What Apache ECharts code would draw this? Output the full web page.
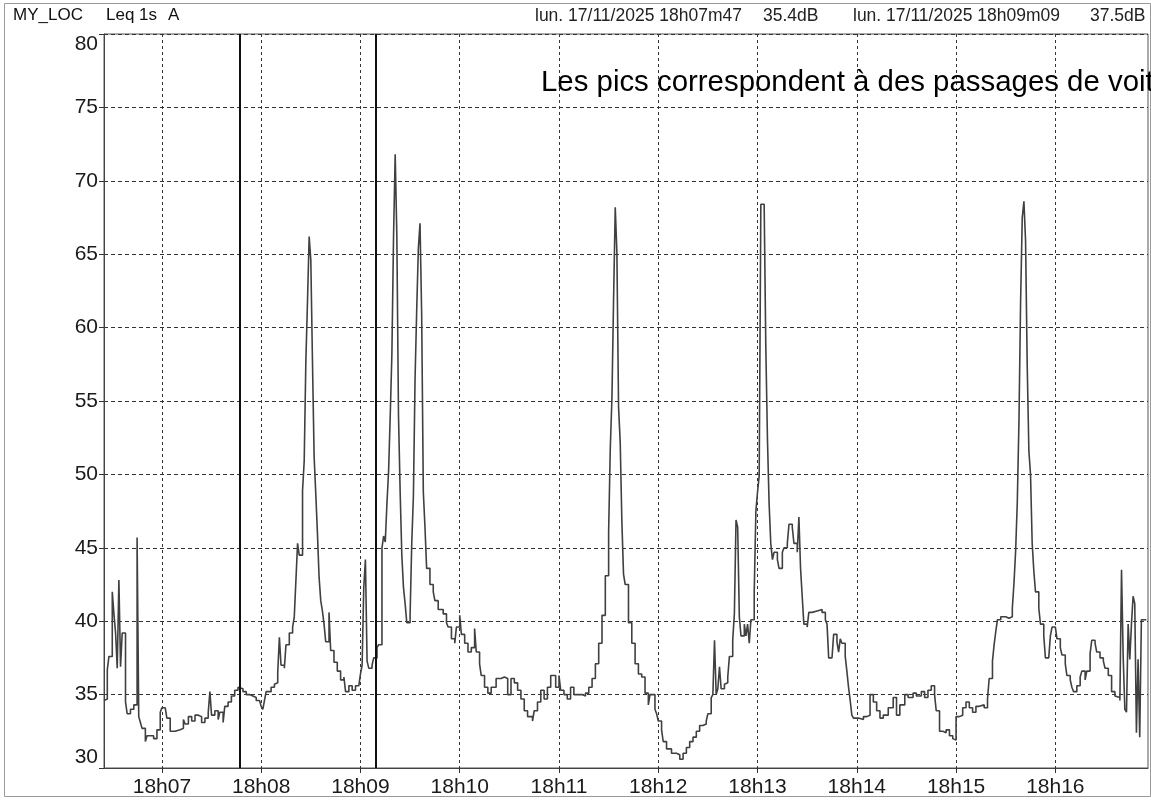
<!DOCTYPE html>
<html>
<head>
<meta charset="utf-8">
<title>MY_LOC Leq 1s A</title>
<script src="https://cdn.jsdelivr.net/npm/echarts@6/dist/echarts.min.js"></script>
<style>
  html, body { margin: 0; padding: 0; background: #ffffff; }
  #chart { width: 1151px; height: 800px; }
</style>
</head>
<body>
<div id="chart"></div>
<script>
// Leq 1 s, A-weighted (dB). Times are seconds after 18h00m00; each level holds until the next time.
const timesSec = [
  385, 386, 387, 388, 390, 391, 392, 393, 394, 395, 396, 398, 399, 401, 403, 405, 406, 407, 408, 410,
  411, 415, 417, 419, 420, 422, 423, 425, 428, 431, 433, 434, 436, 438, 440, 442, 444, 446, 448, 449,
  450, 452, 454, 455, 457, 458, 460, 462, 464, 466, 467, 469, 471, 473, 475, 477, 479, 480, 481, 482,
  483, 486, 488, 489, 490, 491, 492, 494, 495, 497, 499, 500, 501, 502, 503, 505, 506, 507, 508, 509,
  510, 511, 512, 513, 514, 515, 516, 517, 518, 519, 521, 522, 524, 526, 528, 530, 531, 533, 535, 537,
  539, 540, 541, 542, 543, 544, 545, 547, 548, 550, 551, 553, 554, 555, 556, 557, 558, 559, 560, 561,
  562, 563, 564, 565, 566, 567, 568, 570, 571, 572, 573, 574, 575, 576, 577, 578, 579, 580, 582, 584,
  585, 587, 590, 592, 593, 595, 597, 598, 600, 601, 603, 605, 607, 609, 610, 612, 613, 615, 617, 619,
  622, 625, 627, 629, 631, 633, 635, 637, 639, 641, 644, 645, 647, 649, 651, 653, 655, 658, 660, 661,
  663, 665, 667, 669, 674, 676, 678, 680, 682, 684, 686, 688, 690, 691, 692, 693, 694, 695, 696, 697,
  698, 699, 700, 702, 704, 706, 708, 710, 712, 714, 715, 718, 719, 720, 722, 723, 725, 728, 731, 733,
  735, 737, 739, 741, 743, 745, 747, 749, 750, 752, 753, 754, 755, 756, 757, 758, 760, 761, 762, 763,
  765, 766, 767, 768, 769, 770, 772, 773, 774, 775, 776, 778, 779, 780, 781, 782, 784, 785, 786, 787,
  788, 789, 790, 792, 793, 795, 796, 798, 799, 801, 802, 804, 805, 806, 807, 808, 810, 811, 813, 816,
  819, 821, 822, 823, 825, 826, 828, 829, 830, 831, 833, 834, 835, 836, 837, 838, 841, 844, 846, 848,
  850, 852, 854, 856, 859, 862, 864, 866, 869, 871, 874, 876, 879, 881, 883, 885, 887, 888, 890, 892,
  894, 896, 898, 899, 900, 902, 904, 906, 908, 910, 912, 914, 917, 919, 920, 922, 923, 924, 925, 927,
  930, 932, 934, 935, 936, 937, 938, 939, 940, 941, 942, 943, 944, 945, 946, 947, 948, 950, 951, 953,
  954, 956, 957, 958, 960, 961, 963, 964, 966, 967, 969, 970, 971, 973, 975, 976, 978, 979, 981, 982,
  984, 985, 987, 989, 990, 992, 994, 996, 997, 999, 1000, 1001, 1002, 1003, 1004, 1005, 1006, 1007, 1008, 1009,
  1010, 1011, 1012, 1015
];
const levelsDb = [
  34.6, 34.7, 36.7, 37.6, 42.0, 40.5, 39.2, 36.8, 42.8, 36.9, 39.2, 34.5, 33.7, 34.0, 34.3, 45.7, 33.5, 33.1, 32.7, 31.8,
  32.2, 32.0, 32.6, 33.8, 34.1, 34.0, 33.4, 32.5, 32.6, 32.7, 33.3, 33.0, 33.5, 33.2, 33.6, 33.5, 33.1, 33.4, 33.8, 35.2,
  33.6, 33.9, 33.3, 33.8, 33.1, 34.2, 34.5, 34.9, 35.3, 35.5, 35.4, 35.2, 35.0, 34.9, 34.8, 34.6, 34.5, 34.2, 34.0, 34.6,
  35.2, 35.5, 35.7, 35.8, 36.5, 38.9, 37.0, 36.8, 38.4, 39.2, 39.6, 40.3, 42.8, 45.3, 44.5, 48.9, 50.9, 57.7, 61.8, 66.2,
  64.6, 57.7, 51.2, 48.7, 46.0, 43.0, 41.4, 40.7, 39.8, 38.6, 40.6, 38.0, 37.2, 36.6, 36.0, 36.2, 35.2, 35.6, 35.3, 35.6,
  35.5, 36.4, 37.0, 42.3, 44.2, 37.3, 36.8, 37.0, 37.5, 38.2, 38.4, 45.0, 45.8, 45.4, 48.0, 50.2, 54.0, 58.2, 66.2, 71.8,
  66.2, 54.0, 48.8, 44.5, 42.3, 41.2, 39.9, 40.4, 45.3, 48.5, 56.5, 61.2, 65.4, 67.1, 60.9, 48.8, 46.4, 43.6, 42.5, 42.0,
  41.4, 40.8, 40.5, 39.9, 39.6, 38.8, 38.5, 39.6, 40.4, 39.1, 38.5, 37.9, 38.2, 39.5, 37.9, 37.1, 36.3, 35.5, 35.1, 35.5,
  36.1, 36.2, 36.1, 35.0, 36.1, 35.8, 35.3, 34.7, 33.9, 33.5, 33.2, 33.9, 34.5, 35.3, 34.7, 35.5, 36.3, 35.5, 36.3, 35.3,
  35.0, 34.7, 35.5, 35.0, 34.9, 35.1, 35.5, 36.1, 37.1, 38.5, 40.4, 43.1, 46.1, 51.8, 55.2, 62.0, 68.2, 65.1, 54.6, 52.2,
  46.8, 43.2, 42.5, 39.9, 38.5, 37.1, 36.4, 36.2, 35.1, 34.3, 35.0, 34.0, 33.7, 33.2, 32.6, 31.8, 31.3, 31.0, 30.9, 30.6,
  31.0, 31.4, 31.8, 32.1, 32.5, 32.9, 33.0, 33.2, 33.7, 34.8, 35.0, 38.7, 35.0, 35.4, 36.9, 35.4, 35.7, 35.8, 36.2, 37.6,
  38.7, 40.5, 46.9, 46.4, 40.3, 39.0, 39.8, 39.0, 39.8, 38.5, 40.1, 42.0, 47.5, 48.8, 49.9, 68.4, 68.5, 58.7, 52.4, 48.0,
  45.3, 44.2, 44.7, 44.2, 43.6, 44.7, 45.0, 45.3, 46.6, 46.4, 45.3, 44.7, 47.1, 43.6, 41.7, 39.8, 39.6, 40.6, 40.7, 40.8,
  40.6, 40.1, 39.8, 37.5, 37.6, 39.1, 38.6, 37.9, 38.8, 38.5, 37.6, 36.6, 35.5, 34.6, 33.6, 33.4, 33.3, 33.5, 33.6, 35.0,
  34.5, 33.9, 33.4, 33.6, 34.1, 34.8, 33.6, 34.3, 35.0, 34.8, 35.1, 34.9, 35.2, 34.8, 35.3, 35.6, 35.0, 33.9, 32.5, 32.4,
  32.6, 32.2, 32.0, 31.9, 33.5, 33.6, 34.1, 34.5, 34.1, 33.8, 34.2, 34.3, 34.1, 34.7, 36.1, 37.3, 38.4, 39.3, 40.1, 40.3,
  40.2, 40.3, 40.9, 42.6, 44.8, 48.1, 53.6, 61.8, 67.5, 68.6, 65.9, 57.4, 51.6, 50.0, 45.3, 43.4, 42.0, 40.9, 39.8, 39.0,
  37.5, 37.5, 39.0, 39.6, 39.5, 38.8, 38.2, 37.7, 37.1, 36.3, 36.0, 35.5, 35.2, 35.6, 36.2, 36.6, 36.0, 36.6, 37.8, 38.7,
  38.5, 37.9, 37.5, 37.3, 36.8, 36.3, 35.2, 34.9, 34.8, 34.6, 43.5, 37.6, 34.0, 33.8, 39.8, 37.4, 39.8, 41.7, 41.2, 32.4,
  37.4, 32.1, 40.1, 40.1
];

// Time axis: one labelled tick per minute
const tickSeconds = [420, 480, 540, 600, 660, 720, 780, 840, 900, 960];
const tickLabels = ['18h07', '18h08', '18h09', '18h10', '18h11', '18h12', '18h13', '18h14', '18h15', '18h16'];
const timeRange = [385, 1016];

// Level axis (dB)
const levelRange = [30, 80];
const levelStep = 5;

// Two cursors with their time stamps
const cursorTimes = [467, 549];
const cursorStamps = ['lun. 17/11/2025 18h07m47', 'lun. 17/11/2025 18h09m09'];

const headerParts = ['MY_LOC', 'Leq 1s', 'A'];
const noteText = 'Les pics correspondent à des passages de voitures';

const FONT = '"Liberation Sans", Arial, sans-serif';

function levelAt(t) {
  let v = levelsDb[0];
  for (let i = 0; i < timesSec.length; i++) {
    if (timesSec[i] <= t) v = levelsDb[i]; else break;
  }
  return v;
}

const seriesData = timesSec.map((t, i) => [t, levelsDb[i]]);

const chart = echarts.init(document.getElementById('chart'), null, { renderer: 'canvas' });

const headerGraphics = [
  { type: 'text', left: 13, top: 7, style: { text: headerParts[0], font: '17px ' + FONT, fill: '#111' } },
  { type: 'text', left: 106, top: 7, style: { text: headerParts[1], font: '17px ' + FONT, fill: '#111' } },
  { type: 'text', left: 168, top: 7, style: { text: headerParts[2], font: '17px ' + FONT, fill: '#111' } },
  { type: 'text', left: 535, top: 7, style: { text: cursorStamps[0], font: '17.5px ' + FONT, fill: '#222' } },
  { type: 'text', left: 763, top: 7, style: { text: levelAt(cursorTimes[0]).toFixed(1) + 'dB', font: '17.5px ' + FONT, fill: '#222' } },
  { type: 'text', left: 853, top: 7, style: { text: cursorStamps[1], font: '17.5px ' + FONT, fill: '#222' } },
  { type: 'text', left: 1090, top: 7, style: { text: levelAt(cursorTimes[1]).toFixed(1) + 'dB', font: '17.5px ' + FONT, fill: '#222' } },
  { type: 'text', left: 541, top: 68, z: 10, style: { text: noteText, font: '29.4px ' + FONT, fill: '#000' } },
  { type: 'rect', z: -1, shape: { x: 4.5, y: 3.5, width: 1146, height: 793 }, style: { fill: 'none', stroke: '#9a9a9a', lineWidth: 1 } }
];

chart.setOption({
  animation: false,
  backgroundColor: '#ffffff',
  grid: {
    left: 104, right: 3, top: 34, bottom: 32,
    show: true, borderColor: '#555', borderWidth: 1, backgroundColor: 'transparent'
  },
  xAxis: {
    type: 'value',
    min: timeRange[0],
    max: timeRange[1],
    axisLine: { show: true, lineStyle: { color: '#444', width: 1 } },
    axisTick: { show: true, inside: false, length: 5, customValues: tickSeconds, lineStyle: { color: '#333' } },
    axisLabel: {
      customValues: tickSeconds,
      margin: 9,
      fontSize: 21,
      fontFamily: FONT,
      color: '#1a1a1a',
      formatter: v => tickLabels[tickSeconds.indexOf(v)]
    },
    splitLine: { show: true, lineStyle: { color: '#333', width: 1, type: [3, 3] } }
  },
  yAxis: {
    type: 'value',
    min: levelRange[0],
    max: levelRange[1],
    interval: levelStep,
    axisLine: { show: true, lineStyle: { color: '#444', width: 1 } },
    axisTick: { show: true, inside: false, length: 5, lineStyle: { color: '#333' } },
    axisLabel: {
      margin: 6,
      fontSize: 21,
      fontFamily: FONT,
      color: '#1a1a1a',
      verticalAlignMinLabel: 'bottom',
      verticalAlignMaxLabel: 'top'
    },
    splitLine: { show: true, lineStyle: { color: '#333', width: 1, type: [4, 3] } }
  },
  series: [{
    type: 'line',
    data: seriesData,
    step: 'end',
    symbol: 'none',
    silent: true,
    lineStyle: { color: '#404040', width: 1.6 },
    markLine: {
      silent: true,
      symbol: 'none',
      label: { show: false },
      lineStyle: { color: '#111', width: 2, type: 'solid' },
      data: cursorTimes.map(t => ({ xAxis: t }))
    }
  }],
  graphic: headerGraphics
});
</script>
</body>
</html>
